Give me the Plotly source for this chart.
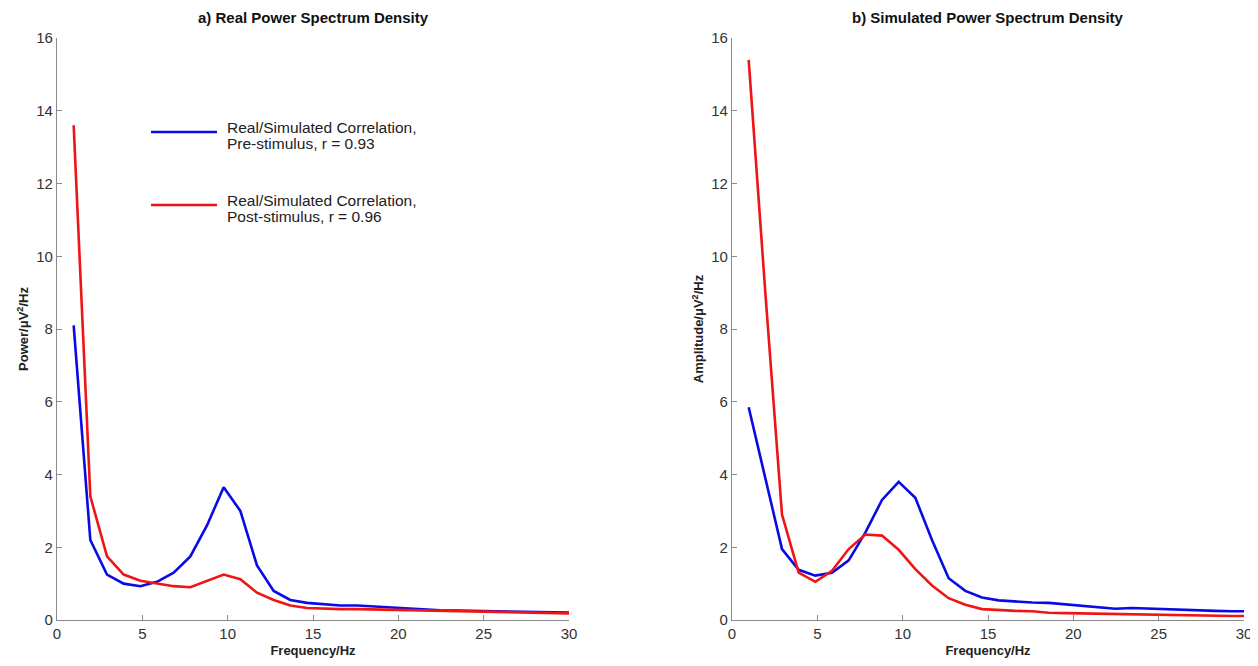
import plotly.graph_objects as go

# frequency bins (Hz), resolution 1000/1024 Hz
bins = list(range(1, 32))
freq = [k * 1000 / 1024 for k in bins]

real_pre = [8.1, 2.2, 1.25, 1.0, 0.93, 1.05, 1.3, 1.75, 2.6, 3.65, 3.0, 1.5, 0.8, 0.55, 0.47,
            0.43, 0.4, 0.4, 0.37, 0.34, 0.32, 0.29, 0.27, 0.26, 0.25, 0.24, 0.23, 0.23, 0.22, 0.21, 0.2]
real_post = [13.6, 3.4, 1.75, 1.25, 1.08, 1.0, 0.93, 0.9, 1.08, 1.25, 1.12, 0.75, 0.55, 0.4, 0.33,
             0.31, 0.3, 0.3, 0.29, 0.28, 0.27, 0.26, 0.25, 0.24, 0.23, 0.22, 0.22, 0.21, 0.2, 0.19, 0.18]
sim_pre = [5.85, 3.9, 1.95, 1.38, 1.22, 1.3, 1.64, 2.4, 3.3, 3.8, 3.36, 2.2, 1.15, 0.8, 0.62,
           0.54, 0.5, 0.48, 0.47, 0.43, 0.4, 0.34, 0.31, 0.33, 0.31, 0.29, 0.27, 0.26, 0.25, 0.24, 0.24]
sim_post = [15.4, 9.0, 2.9, 1.3, 1.05, 1.35, 1.95, 2.35, 2.32, 1.93, 1.4, 0.95, 0.6, 0.42, 0.3,
            0.27, 0.25, 0.24, 0.2, 0.19, 0.18, 0.17, 0.16, 0.15, 0.14, 0.13, 0.13, 0.12, 0.12, 0.11, 0.11]

legend_lines = [["Real/Simulated Correlation,", "Pre-stimulus, r = 0.93"],
                ["Real/Simulated Correlation,", "Post-stimulus, r = 0.96"]]
x_ticks = [0, 5, 10, 15, 20, 25, 30]
y_ticks = [0, 2, 4, 6, 8, 10, 12, 14, 16]

BLUE = "#0a0ae6"
RED = "#ee1515"
FONT = "Liberation Sans, Arial, sans-serif"

fig = go.Figure()
fig.add_trace(go.Scatter(x=freq, y=real_pre, mode="lines", line=dict(color=BLUE, width=2.6),
                         name="Pre-stimulus", xaxis="x", yaxis="y"))
fig.add_trace(go.Scatter(x=freq, y=real_post, mode="lines", line=dict(color=RED, width=2.6),
                         name="Post-stimulus", xaxis="x", yaxis="y"))
fig.add_trace(go.Scatter(x=freq, y=sim_pre, mode="lines", line=dict(color=BLUE, width=2.6),
                         name="Pre-stimulus", xaxis="x2", yaxis="y2"))
fig.add_trace(go.Scatter(x=freq, y=sim_post, mode="lines", line=dict(color=RED, width=2.6),
                         name="Post-stimulus", xaxis="x2", yaxis="y2"))

# page body has an 8px margin: figure pixel = screen pixel - OFF
OFF = 8
W, H = 1250, 650
ML = 57 - OFF
MT = 38 - OFF
MB = H - (620 - OFF)
MR = W - (1244 - OFF)
PW, PH = W - ML - MR, H - MT - MB

axis_common = dict(showgrid=False, zeroline=False, showline=True, linecolor="#8a8a8a", linewidth=1.2,
                   ticks="inside", ticklen=5, tickcolor="#8a8a8a", mirror=False, automargin=False,
                   ticklabeloverflow="allow",
                   tickfont=dict(family=FONT, size=15, color="#333333"))
xdom1 = [0, 512 / PW]
xdom2 = [(732 - 57) / PW, 1]

fig.update_layout(
    width=W, height=H, paper_bgcolor="white", plot_bgcolor="white",
    margin=dict(l=ML, r=MR, t=MT, b=MB),
    font=dict(family=FONT, color="#222222"),
    xaxis=dict(domain=xdom1, range=[0, 30], tickvals=x_ticks, anchor="y",
               title=dict(text="<b>Frequency/Hz</b>", font=dict(size=13, family=FONT), standoff=4),
               **axis_common),
    yaxis=dict(domain=[0, 1], range=[0, 16], tickvals=y_ticks, anchor="x",
               title=dict(text="<b>Power/μV<sup>2</sup>/Hz</b>", font=dict(size=13, family=FONT), standoff=4),
               **axis_common),
    xaxis2=dict(domain=xdom2, range=[0, 30], tickvals=x_ticks, anchor="y2",
                title=dict(text="<b>Frequency/Hz</b>", font=dict(size=13, family=FONT), standoff=4),
                **axis_common),
    yaxis2=dict(domain=[0, 1], range=[0, 16], tickvals=y_ticks, anchor="x2",
                title=dict(text="<b>Amplitude/μV<sup>2</sup>/Hz</b>", font=dict(size=13, family=FONT), standoff=4),
                **axis_common),
    showlegend=False,
)

def px_x(px):
    return (px - 57) / PW

def px_y(py):
    return (620 - py) / PH

# titles
fig.add_annotation(text="<b>a) Real Power Spectrum Density</b>", x=(xdom1[0] + xdom1[1]) / 2, y=px_y(18),
                   xref="paper", yref="paper", showarrow=False, font=dict(size=15, family=FONT, color="#111111"),
                   xanchor="center", yanchor="middle")
fig.add_annotation(text="<b>b) Simulated Power Spectrum Density</b>", x=(xdom2[0] + xdom2[1]) / 2, y=px_y(18),
                   xref="paper", yref="paper", showarrow=False, font=dict(size=15, family=FONT, color="#111111"),
                   xanchor="center", yanchor="middle")

# legend (line samples + two-line labels)
for lines, color, ypx in [(legend_lines[0], BLUE, 132), (legend_lines[1], RED, 205)]:
    fig.add_shape(type="line", xref="paper", yref="paper", x0=px_x(151), x1=px_x(217),
                  y0=px_y(ypx), y1=px_y(ypx), line=dict(color=color, width=2.6))
    for i, t in enumerate(lines):
        fig.add_annotation(text=t, x=px_x(225), y=px_y(ypx - 5 + 16 * i), xref="paper", yref="paper",
                           showarrow=False, xanchor="left", yanchor="middle", align="left",
                           font=dict(size=15.5, family=FONT, color="#222222"))

fig.write_html("out.html")
